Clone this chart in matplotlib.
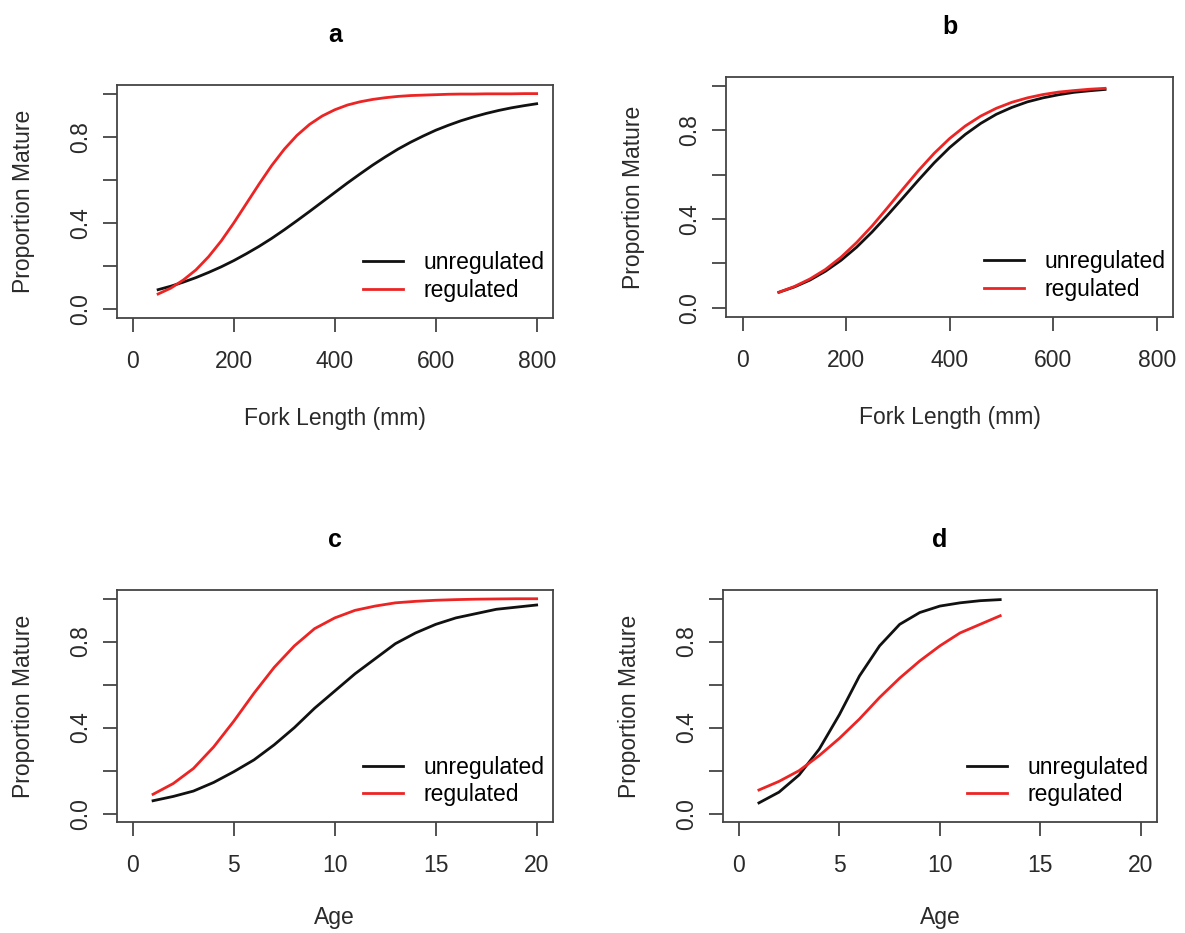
import numpy as np
import matplotlib
matplotlib.use("Agg")
import matplotlib.pyplot as plt

plt.rcParams['font.family'] = ['Liberation Sans', 'DejaVu Sans']

# Panel a / b: fork length (mm) vs proportion mature
len_a = [50, 75, 100, 125, 150, 175, 200, 225, 250, 275, 300, 325, 350, 375, 400, 425,
         450, 475, 500, 525, 550, 575, 600, 625, 650, 675, 700, 725, 750, 775, 800]
unreg_a = [0.090, 0.106, 0.125, 0.146, 0.170, 0.196, 0.225, 0.257, 0.291, 0.328, 0.368,
           0.410, 0.453, 0.497, 0.541, 0.585, 0.627, 0.668, 0.706, 0.742, 0.774, 0.803,
           0.830, 0.853, 0.874, 0.892, 0.908, 0.922, 0.934, 0.944, 0.953]
reg_a = [0.070, 0.097, 0.135, 0.182, 0.243, 0.316, 0.400, 0.490, 0.580, 0.666, 0.742,
         0.806, 0.857, 0.896, 0.925, 0.947, 0.962, 0.973, 0.981, 0.987, 0.991, 0.993,
         0.995, 0.997, 0.998, 0.998, 0.999, 0.999, 0.999, 1.000, 1.000]

len_b = [70, 100, 130, 160, 190, 220, 250, 280, 310, 340, 370, 400, 430, 460, 490, 520,
         550, 580, 610, 640, 670, 700]
unreg_b = [0.070, 0.094, 0.125, 0.165, 0.214, 0.273, 0.342, 0.418, 0.497, 0.577, 0.654,
           0.723, 0.782, 0.832, 0.873, 0.904, 0.929, 0.947, 0.961, 0.972, 0.979, 0.985]
reg_b = [0.070, 0.096, 0.130, 0.173, 0.228, 0.294, 0.369, 0.452, 0.537, 0.620, 0.697,
         0.764, 0.820, 0.865, 0.900, 0.927, 0.947, 0.962, 0.973, 0.980, 0.986, 0.990]

# Panel c / d: age vs proportion mature
age_c = list(range(1, 21))
unreg_c = [0.06, 0.08, 0.105, 0.145, 0.195, 0.25, 0.32, 0.40, 0.49, 0.57, 0.65, 0.72,
           0.79, 0.84, 0.88, 0.91, 0.93, 0.95, 0.96, 0.97]
reg_c = [0.09, 0.14, 0.21, 0.31, 0.43, 0.56, 0.68, 0.78, 0.86, 0.91, 0.945, 0.965,
         0.98, 0.987, 0.992, 0.995, 0.997, 0.998, 0.999, 0.999]

age_d = list(range(1, 14))
unreg_d = [0.05, 0.10, 0.18, 0.30, 0.46, 0.64, 0.78, 0.88, 0.935, 0.965, 0.98, 0.99, 0.995]
reg_d = [0.11, 0.15, 0.20, 0.27, 0.35, 0.44, 0.54, 0.63, 0.71, 0.78, 0.84, 0.88, 0.92]

panels = [
    ("a", len_a, unreg_a, reg_a, "Fork Length (mm)", [0, 200, 400, 600, 800], [0.0985, 0.6595, 0.368, 0.2494]),
    ("b", len_b, unreg_b, reg_b, "Fork Length (mm)", [0, 200, 400, 600, 800], [0.6127, 0.6606, 0.3775, 0.2566]),
    ("c", age_c, unreg_c, reg_c, "Age", [0, 5, 10, 15, 20], [0.0985, 0.1187, 0.368, 0.249]),
    ("d", age_d, unreg_d, reg_d, "Age", [0, 5, 10, 15, 20], [0.6099, 0.1187, 0.3665, 0.249]),
]

fig = plt.figure(figsize=(11.85, 9.33), dpi=100)
box_col = "#444444"
txt_col = "#2a2a2a"
fs = 16.5

for title, x, unreg, reg, xlab, xt, pos in panels:
    ax = fig.add_axes(pos)
    ax.plot(x, unreg, color="#111111", lw=2.0, label="unregulated")
    ax.plot(x, reg, color="#ec2424", lw=2.0, label="regulated")
    span = xt[-1] - xt[0]
    ax.set_xlim(xt[0] - 0.04 * span, xt[-1] + 0.04 * span)
    ax.set_ylim(-0.04, 1.04)
    ax.set_xticks(xt)
    ax.set_xticklabels([str(v) for v in xt])
    ax.set_yticks([0, 0.2, 0.4, 0.6, 0.8, 1.0])
    ax.set_yticklabels(["0.0", "", "0.4", "", "0.8", ""], rotation=90, va="center")
    ax.tick_params(direction="out", length=10, width=1.3, color=box_col,
                   labelsize=fs, labelcolor=txt_col)
    ax.tick_params(axis="x", pad=13)
    ax.tick_params(axis="y", pad=8)
    for s in ax.spines.values():
        s.set_color(box_col)
        s.set_linewidth(1.3)
    ax.set_xlabel(xlab, fontsize=fs, color=txt_col, labelpad=25 if xlab != "Age" else 21)
    ax.set_ylabel("Proportion Mature", fontsize=fs, color=txt_col, labelpad=24)
    ax.set_title(title, fontsize=18, fontweight="bold", pad=31)
    ax.legend(loc="lower right", bbox_to_anchor=(1.018, 0.0), frameon=False,
              fontsize=fs, handlelength=1.75, handletextpad=0.9, labelspacing=0.2,
              borderpad=0.2)

fig.savefig("out.png", dpi=100)
